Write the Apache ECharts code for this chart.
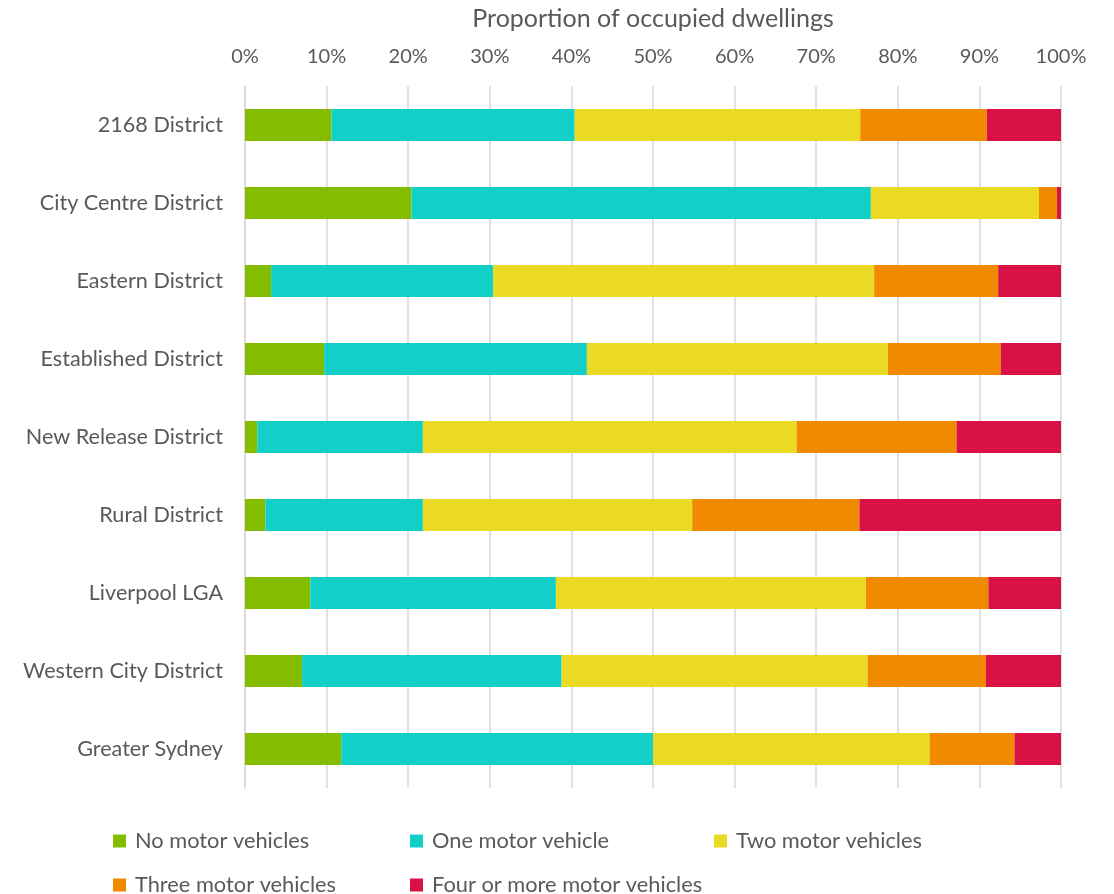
<!DOCTYPE html>
<html><head><meta charset="utf-8">
<script src="https://cdn.jsdelivr.net/npm/echarts@6/dist/echarts.min.js"></script>
<style>html,body{margin:0;padding:0;background:#fff}#c{width:1114px;height:894px}</style>
</head><body><div id="c"></div>
<script>
const categories = ["2168 District","City Centre District","Eastern District","Established District","New Release District","Rural District","Liverpool LGA","Western City District","Greater Sydney"];
const seriesNames = ["No motor vehicles","One motor vehicle","Two motor vehicles","Three motor vehicles","Four or more motor vehicles"];
const noVehicles    = [10.6, 20.4, 3.2, 9.7, 1.5, 2.5, 8.0, 7.0, 11.8];
const oneVehicle    = [29.8, 56.3, 27.2, 32.2, 20.3, 19.3, 30.1, 31.8, 38.2];
const twoVehicles   = [35.0, 20.6, 46.7, 36.9, 45.8, 33.0, 38.0, 37.5, 33.9];
const threeVehicles = [15.5, 2.2, 15.2, 13.8, 19.6, 20.5, 15.0, 14.5, 10.4];
const fourPlus      = [9.1, 0.5, 7.7, 7.4, 12.8, 24.7, 8.9, 9.2, 5.7];
const tickLabels = ["0%","10%","20%","30%","40%","50%","60%","70%","80%","90%","100%"];
const colors = ["#84BD00","#12CFC8","#EADA24","#F18A00","#D81244"];
const values = [noVehicles, oneVehicle, twoVehicles, threeVehicles, fourPlus];
const font = "Lato, sans-serif";

const legendPos = [[108,825],[405,825],[709,825],[108,869],[405,869]];
const legends = seriesNames.map((n,i)=>({
  data:[n], left:legendPos[i][0], top:legendPos[i][1], itemWidth:13, itemHeight:13, itemGap:6,
  icon:'rect', textStyle:{fontFamily:font, fontSize:21.8, color:'#595959', padding:[0,0,0,4]}
}));

const chart = echarts.init(document.getElementById('c'), null, {renderer:'canvas'});
chart.setOption({
  animation:false,
  color:colors,
  grid:{left:245, right:53, top:86, bottom:106, containLabel:false, outerBoundsMode:'none'},
  legend:legends,
  xAxis:{
    type:'value', position:'top', min:0, max:100, interval:10,
    name:'Proportion of occupied dwellings', nameLocation:'middle', nameGap:55,
    nameTextStyle:{fontFamily:font, fontSize:25, color:'#595959'},
    axisLabel:{formatter:(v)=>tickLabels[Math.round(v/10)], fontFamily:font, fontSize:20, color:'#595959', margin:19},
    axisLine:{show:false}, axisTick:{show:false},
    splitLine:{lineStyle:{color:'#d9d9d9', width:1.5}}
  },
  yAxis:{
    type:'category', data:categories, inverse:true,
    axisLabel:{fontFamily:font, fontSize:21.6, color:'#595959', margin:22},
    axisLine:{show:true, lineStyle:{color:'#d9d9d9', width:1.5}}, axisTick:{show:false}
  },
  series: seriesNames.map((n,i)=>({
    name:n, type:'bar', stack:'total', data:values[i], barWidth:32,
    itemStyle:{color:colors[i]}
  }))
});
</script></body></html>
